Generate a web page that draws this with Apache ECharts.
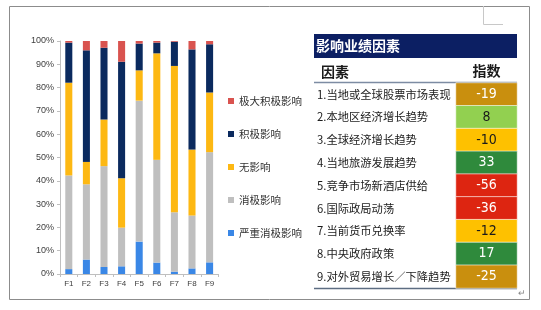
<!DOCTYPE html>
<html><head><meta charset="utf-8">
<script src="https://cdn.jsdelivr.net/npm/echarts@6/dist/echarts.min.js"></script>
<style>html,body{margin:0;padding:0;background:#fff}#c{width:541px;height:310px}</style>
</head><body><div id="c"></div>
<script>
const categories = ['F1','F2','F3','F4','F5','F6','F7','F8','F9'];
const severeNegative = [2.1, 6.2, 3.0, 3.3, 13.9, 4.9, 1.0, 2.4, 5.0];
const negative       = [40.2, 32.3, 43.3, 16.6, 60.5, 44.1, 25.5, 22.7, 47.3];
const noImpact       = [39.8, 9.6, 20.0, 21.2, 13.0, 45.7, 62.8, 28.3, 25.6];
const positive       = [17.2, 47.9, 30.8, 50.0, 11.5, 4.6, 10.4, 43.0, 20.7];
const veryPositive   = [0.7, 4.0, 2.9, 8.9, 1.1, 0.7, 0.3, 3.6, 1.4];
const seriesNames = ['严重消极影响','消极影响','无影响','积极影响','极大积极影响'];
const yTicks = [0,10,20,30,40,50,60,70,80,90,100];

const tableTitle = '影响业绩因素';
const colHeaders = ['因素','指数'];
const factors = ['1.当地或全球股票市场表现','2.本地区经济增长趋势','3.全球经济增长趋势','4.当地旅游发展趋势','5.竞争市场新酒店供给','6.国际政局动荡','7.当前货币兑换率','8.中央政府政策','9.对外贸易增长／下降趋势'];
const indices = [-19, 8, -10, 33, -56, -36, -12, 17, -25];

const barColors = ['#3a87e6','#bfbfbf','#fdb813','#0b2a5e','#d9534f'];
const seriesData = [severeNegative, negative, noImpact, positive, veryPositive];

const chart = echarts.init(document.getElementById('c'));
const barSeries = seriesData.map((d,i)=>({
  name: seriesNames[i], type:'bar', stack:'s', xAxisIndex:0, yAxisIndex:0,
  data:d, barWidth:'40%', itemStyle:{color:barColors[i]}
}));
const lightCell = v => v > -15 && v < 10;
const heatData = indices.map((v,i)=>({value:[0,i,v], label:{color: lightCell(v)?'#1a1a1a':'#ffffff'}}));

chart.setOption({
  animation:false,
  textStyle:{fontFamily:'"Noto Sans CJK SC", sans-serif'},
  legend:{
    orient:'vertical', left:223, top:90, itemWidth:6, itemHeight:6, itemGap:21,
    icon:'rect',
    data:seriesNames.slice().reverse(),
    textStyle:{fontSize:10.5, color:'#333', lineHeight:12}
  },
  grid:[
    {left:60, right:322.6, top:41, bottom:36},
    {left:456, right:24, top:83, bottom:22}
  ],
  xAxis:[
    {type:'category', gridIndex:0, data:categories,
     axisLine:{lineStyle:{color:'#bfbfbf'}}, axisTick:{show:true, length:3, lineStyle:{color:'#bfbfbf'}},
     axisLabel:{fontSize:8, color:'#404040', margin:6, fontFamily:'"Liberation Sans Narrow", Arial, sans-serif'}},
    {type:'category', gridIndex:1, data:[colHeaders[1]], position:'top',
     axisLine:{show:false}, axisTick:{show:false},
     axisLabel:{fontSize:14, fontWeight:'bold', color:'#1a1a1a', margin:5}}
  ],
  yAxis:[
    {type:'value', gridIndex:0, min:0, max:100, interval:10,
     axisLine:{show:true, lineStyle:{color:'#bfbfbf'}}, axisTick:{show:true, length:3, lineStyle:{color:'#bfbfbf'}},
     splitLine:{show:false},
     axisLabel:{fontSize:9, color:'#404040', margin:6, fontFamily:'"Liberation Sans Narrow", Arial, sans-serif',
       formatter: v => yTicks.includes(v) ? v + '%' : ''}},
    {type:'category', gridIndex:1, data:factors, inverse:true,
     axisLine:{show:false}, axisTick:{show:false},
     axisLabel:{align:'left', margin:139, fontSize:11.3, color:'#1a1a1a'}}
  ],
  visualMap:{
    type:'piecewise', show:false, seriesIndex:5, dimension:2,
    pieces:[
      {lte:-30, color:'#dd2511'},
      {gt:-30, lte:-15, color:'#c98f0e'},
      {gt:-15, lt:0, color:'#fec100'},
      {gte:0, lt:10, color:'#92d050'},
      {gte:10, color:'#2f8a3c'}
    ]
  },
  series: barSeries.concat([{
    type:'heatmap', xAxisIndex:1, yAxisIndex:1, data:heatData,
    itemStyle:{borderColor:'#ffffff', borderWidth:0.6},
    label:{show:true, fontSize:14, fontFamily:'"Liberation Sans Narrow", "DejaVu Sans Condensed", sans-serif',
      formatter: p => String(p.value[2])}
  }]),
  graphic:[
    {type:'rect', shape:{x:9.5, y:6.5, width:520, height:293}, style:{fill:'none', stroke:'#8c8c8c', lineWidth:1}, silent:true},
    {type:'polyline', shape:{points:[[483.5,6],[483.5,24.5],[503,24.5]]}, style:{fill:'none', stroke:'#c8c8c8', lineWidth:1}},
    {type:'rect', shape:{x:314, y:34, width:203, height:24}, style:{fill:'#0c1f63'}},
    {type:'text', x:316, y:46, style:{text:tableTitle, fill:'#ffffff', fontSize:14, fontWeight:'bold', verticalAlign:'middle', fontFamily:'"Noto Sans CJK SC", sans-serif'}},
    {type:'text', x:321, y:72, style:{text:colHeaders[0], fill:'#1a1a1a', fontSize:14, fontWeight:'bold', verticalAlign:'middle', fontFamily:'"Noto Sans CJK SC", sans-serif'}},
    {type:'line', shape:{x1:314, y1:82.5, x2:517, y2:82.5}, style:{stroke:'#7d8ca3', lineWidth:1.5}},
    {type:'line', shape:{x1:314, y1:288.5, x2:517, y2:288.5}, style:{stroke:'#5d6d82', lineWidth:1.5}},
    {type:'text', x:518, y:289, style:{text:'↵', fill:'#888', fontSize:9}}
  ]
});
</script></body></html>
